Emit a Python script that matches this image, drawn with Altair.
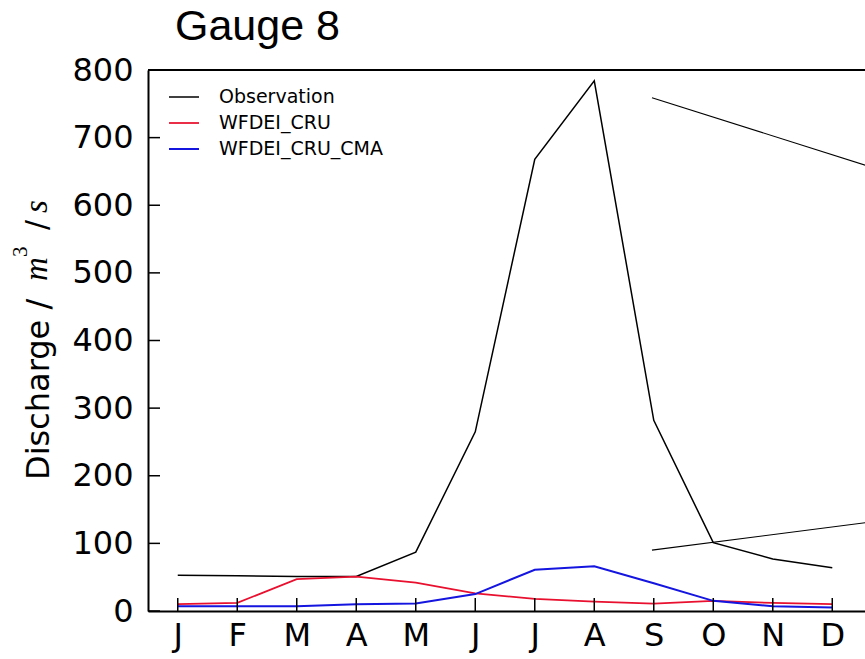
import json
import altair as alt
import pandas as pd

# Monthly mean discharge at gauge 8
months = ["J", "F", "M", "A", "M", "J", "J", "A", "S", "O", "N", "D"]
month_num = list(range(1, 13))
observation = [53, 52, 51, 51, 87, 265, 668, 784, 282, 101, 77, 64]
wfdei_cru = [10, 12, 47, 51, 42, 26, 18, 14, 11, 15, 12, 10]
wfdei_cru_cma = [7, 7, 7, 10, 11, 25, 61, 66, 41, 15, 7, 5]

series_names = ["Observation", "WFDEI_CRU", "WFDEI_CRU_CMA"]
series_colors = ["#000000", "#e8102e", "#1515e0"]
series_widths = [1.5, 2, 2]

y_ticks = list(range(0, 801, 100))

# guide lines leading out to the zoomed panel
zoom_x = [8.97, 12.6]
zoom_upper_y = [759, 658]
zoom_lower_y = [90, 131]

W, H = 717, 541
x_scale = alt.Scale(domain=[0.5, 12.55], nice=False, zero=False)
y_scale = alt.Scale(domain=[0, 800], nice=False)

label_expr = json.dumps(months) + "[datum.value - 1]"

# one shared axis definition per channel, reused by every layer
x_axis = alt.Axis(values=month_num, labelExpr=label_expr, title=None,
                  grid=False, ticks=False, domainColor="black",
                  domainWidth=2, labelFont="DejaVu Sans",
                  labelFontSize=32, labelColor="black",
                  labelPadding=9, labelFlush=False, labelOverlap=False)
y_axis = alt.Axis(values=y_ticks, title=None, grid=False, ticks=False,
                  domainColor="black", domainWidth=2,
                  labelFont="DejaVu Sans", labelFontSize=32,
                  labelColor="black", labelPadding=15, labelOverlap=False)

rows = []
for name, vals in zip(series_names, [observation, wfdei_cru, wfdei_cru_cma]):
    for m, v in zip(month_num, vals):
        rows.append({"month": m, "discharge": v, "series": name})
df = pd.DataFrame(rows)

lines = alt.Chart(df).mark_line(clip=True).encode(
    x=alt.X("month:Q", scale=x_scale, axis=x_axis),
    y=alt.Y("discharge:Q", scale=y_scale, axis=y_axis),
    color=alt.Color("series:N",
                    scale=alt.Scale(domain=series_names, range=series_colors),
                    legend=alt.Legend(title=None, orient="none", legendX=20,
                                      legendY=11, symbolType="stroke",
                                      symbolSize=900, symbolStrokeWidth=1.5,
                                      labelFont="DejaVu Sans", labelFontSize=19,
                                      labelColor="black", labelOffset=19,
                                      labelLimit=400, rowPadding=0, padding=0)),
    strokeWidth=alt.StrokeWidth("series:N",
                                scale=alt.Scale(domain=series_names,
                                                range=series_widths),
                                legend=None),
)

# inward-pointing tick marks
ytick_df = pd.DataFrame({"v": y_ticks})
yticks = alt.Chart(ytick_df).mark_rule(color="black", strokeWidth=1.5).encode(
    y=alt.Y("v:Q", scale=y_scale, axis=y_axis),
    x=alt.value(0), x2=alt.value(12),
)
xtick_df = pd.DataFrame({"m": month_num})
xticks = alt.Chart(xtick_df).mark_rule(color="black", strokeWidth=1.5).encode(
    x=alt.X("m:Q", scale=x_scale, axis=x_axis),
    y=alt.value(H), y2=alt.value(H - 13),
)

# top spine
one = alt.Data(values=[{}])
top_spine = alt.Chart(one).mark_rule(color="black", strokeWidth=2).encode(
    x=alt.value(0), x2=alt.value(W), y=alt.value(0)
)

zoom_df = pd.DataFrame({
    "x": zoom_x * 2,
    "y": zoom_upper_y + zoom_lower_y,
    "g": ["upper", "upper", "lower", "lower"],
})
connectors = alt.Chart(zoom_df).mark_line(color="black", strokeWidth=1.1,
                                          clip=True).encode(
    x=alt.X("x:Q", scale=x_scale, axis=x_axis),
    y=alt.Y("y:Q", scale=y_scale, axis=y_axis),
    detail="g:N",
)

title = alt.Chart(one).mark_text(
    text="Gauge 8", font="Liberation Sans", fontSize=43, align="left",
    baseline="alphabetic", color="black"
).encode(x=alt.value(27), y=alt.value(-30))

# y-axis label: "Discharge / m^3 / s" with math-style italics
def ylab(txt, x, y, font, size, style="normal"):
    return alt.Chart(one).mark_text(
        text=txt, font=font, fontSize=size, fontStyle=style, angle=270,
        align="left", baseline="alphabetic", color="black"
    ).encode(x=alt.value(x), y=alt.value(y))

ylabel = [
    ylab("Discharge /", -99, 410, "DejaVu Sans", 32),
    ylab("m", -101, 211, "Liberation Serif", 33, "italic"),
    ylab("3", -121, 187, "Liberation Serif", 21),
    ylab("/", -101, 160, "DejaVu Sans", 30),
    ylab("s", -101, 143, "Liberation Serif", 33, "italic"),
]

chart = alt.layer(
    lines, connectors, yticks, xticks, top_spine, title, *ylabel
).properties(
    width=W, height=H, autosize="none",
    padding={"left": 148, "top": 70, "right": 0, "bottom": 48},
    background="white",
).configure_view(stroke=None)

chart.save("out.html", embed_options={"renderer": "svg", "actions": False})
